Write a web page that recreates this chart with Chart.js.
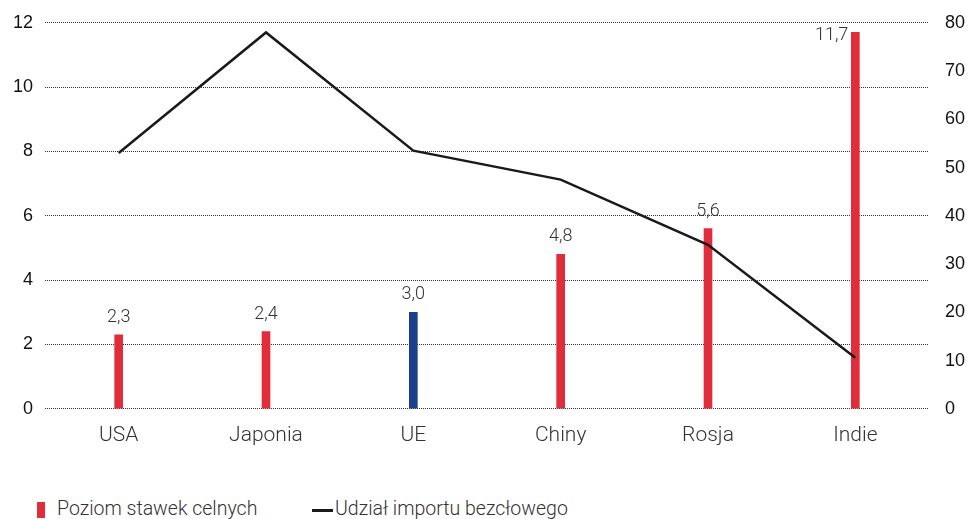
<html>
<head>
  <meta charset="utf-8">
  <title>Poziom stawek celnych i udział importu bezcłowego</title>
  <script src="https://cdn.jsdelivr.net/npm/chart.js"></script>
  <style>
    body { margin: 0; background: #fff; font-family: Roboto, "Noto Sans", sans-serif; }
    #wrap { position: relative; width: 972px; height: 519px; }
    #legend { position: absolute; left: 0; top: 497px; font-size: 19.5px; font-weight: 300; color: #333; }
    .item { position: absolute; white-space: nowrap; top: 0; }
    .box { position: absolute; width: 8px; height: 16px; background: #e02d3c; top: 5px; }
    .ln { position: absolute; width: 21px; height: 3px; background: #1a1a1a; top: 12px; }
  </style>
</head>
<body>
  <div id="wrap">
    <canvas id="myChart" width="972" height="454"></canvas>
    <div id="legend">
      <div class="item" style="left:37px"><span class="box"></span><span style="margin-left:20px">Poziom stawek celnych</span></div>
      <div class="item" style="left:312px"><span class="ln"></span><span style="margin-left:23px">Udział importu bezcłowego</span></div>
    </div>
  </div>

  <script>
    // dane
    var countries = ["USA", "Japonia", "UE", "Chiny", "Rosja", "Indie"];
    var tariffRate = [2.3, 2.4, 3.0, 4.8, 5.6, 11.7];
    var dutyFreeShare = [53, 78, 53.5, 47.5, 34, 10.6];
    var barColors = ["#e02d3c", "#e02d3c", "#1b3f8d", "#e02d3c", "#e02d3c", "#e02d3c"];

    // etykiety wartości nad słupkami
    var valueLabels = {
      id: "valueLabels",
      afterDatasetsDraw: function (chart) {
        var ctx = chart.ctx;
        var meta = chart.getDatasetMeta(0);
        ctx.save();
        ctx.font = "300 18px Roboto, 'Noto Sans', sans-serif";
        ctx.fillStyle = "#333";
        meta.data.forEach(function (bar, i) {
          var txt = tariffRate[i].toFixed(1).replace(".", ",");
          if (i === meta.data.length - 1) {
            ctx.textAlign = "right";
            ctx.textBaseline = "middle";
            ctx.fillText(txt, bar.x - 7, bar.y + 3);
          } else {
            ctx.textAlign = "center";
            ctx.textBaseline = "alphabetic";
            ctx.fillText(txt, bar.x, bar.y - 13);
          }
        });
        ctx.restore();
      }
    };

    var ctx = document.getElementById("myChart").getContext("2d");
    var chart = new Chart(ctx, {
      type: "bar",
      data: {
        labels: countries,
        datasets: [
          {
            type: "bar",
            label: "Poziom stawek celnych",
            data: tariffRate,
            backgroundColor: barColors,
            barThickness: 8,
            yAxisID: "y",
            order: 2
          },
          {
            type: "line",
            label: "Udział importu bezcłowego",
            data: dutyFreeShare,
            borderColor: "#1a1a1a",
            borderWidth: 2.5,
            pointRadius: 0,
            tension: 0,
            yAxisID: "y1",
            order: 1
          }
        ]
      },
      options: {
        responsive: false,
        animation: false,
        layout: { padding: { top: 7, bottom: 0 } },
        plugins: {
          legend: { display: false },
          tooltip: { enabled: false }
        },
        scales: {
          x: {
            grid: { display: false },
            border: { display: false },
            ticks: { color: "#333", font: { size: 21, family: "Roboto", weight: "300" }, padding: 6 }
          },
          y: {
            position: "left",
            min: 0,
            max: 12,
            ticks: { stepSize: 2, color: "#111", font: { size: 18, weight: "500" }, padding: 12 },
            grid: { color: "#333", lineWidth: 1, drawTicks: false },
            border: { display: true, width: 0, dash: [1, 1] },
            afterFit: function (s) { s.width = 45; }
          },
          y1: {
            position: "right",
            min: 0,
            max: 80,
            ticks: { stepSize: 10, color: "#111", font: { size: 18, weight: "500" }, padding: 8 },
            grid: { display: false },
            border: { display: false },
            afterFit: function (s) { s.width = 43; }
          }
        }
      },
      plugins: [valueLabels]
    });
  </script>
</body>
</html>
